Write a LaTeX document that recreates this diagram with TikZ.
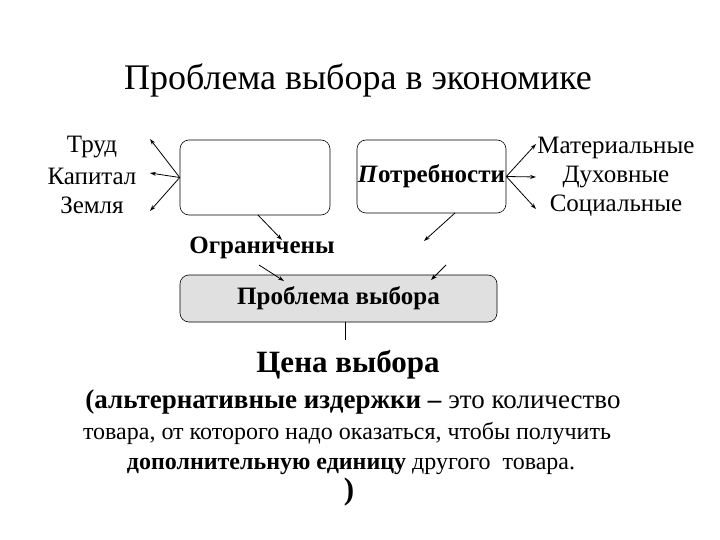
\documentclass[tikz,border=0pt]{standalone}
\usepackage{fontspec}
\setmainfont{Liberation Serif}
\usetikzlibrary{arrows.meta}
\begin{document}
\begin{tikzpicture}[x=1pt,y=-1pt,
 box/.style={draw,rounded corners=9pt,line width=0.6pt},
 arr/.style={-{Stealth[length=6pt,width=4pt]},line width=0.8pt},
 lbl/.style={font=\fontsize{25}{27}\selectfont,inner sep=1pt}]
\useasboundingbox (0,0) rectangle (720,540);
\node[font=\fontsize{36}{38}\selectfont] (title) at (358,80) {Проблема выбора в экономике};
\node[box,minimum width=150pt,minimum height=75pt] (res) at (255,177.5) {};
\node[box,minimum width=149pt,minimum height=73pt,font=\fontsize{25}{27}\selectfont\bfseries,inner sep=0pt] (need) at (431.5,176.5) {\textit{П}отребности};
\node[box,fill=black!12,minimum width=317pt,minimum height=47pt,font=\fontsize{25}{27}\selectfont\bfseries] (prob) at (338.5,298.5) {Проблема выбора};
\node[lbl] (trud) at (92,147) {Труд};
\node[lbl] (kap) at (92,176) {Капитал};
\node[lbl] (zem) at (92,205) {Земля};
\node[lbl] (mat) at (616,148) {Материальные};
\node[lbl] (duh) at (616,177) {Духовные};
\node[lbl] (soc) at (616,206) {Социальные};
\node[lbl,font=\fontsize{25}{27}\selectfont\bfseries] (ogr) at (262,248) {Ограничены};
\coordinate (a1) at (150,139); \coordinate (a2) at (150,173); \coordinate (a3) at (150,211);
\coordinate (b1) at (536,144); \coordinate (b2) at (536,177); \coordinate (b3) at (536,209);
\draw[arr] (res.west) -- (a1); \draw[arr] (res.west) -- (a2); \draw[arr] (res.west) -- (a3);
\draw[arr] (need.east) -- (b1); \draw[arr] (need.east) -- (b2); \draw[arr] (need.east) -- (b3);
\coordinate (c1) at (258,215); \coordinate (c2) at (282,240);
\draw[arr] (c1) -- (c2);
\coordinate (d1) at (455,213); \coordinate (d2) at (424,241);
\draw[arr] (d1) -- (d2);
\coordinate (e1) at (259,265); \coordinate (e2) at (284,281);
\draw[arr] (e1) -- (e2);
\coordinate (f1) at (446,265); \coordinate (f2) at (431,280);
\draw[arr] (f1) -- (f2);
\coordinate (g1) at (345,340);
\draw[line width=0.8pt] (prob.south -| g1) -- (g1);
\node[font=\fontsize{31}{33}\selectfont\bfseries] (price) at (348,365) {Цена выбора};
\node[font=\fontsize{27}{29}\selectfont,anchor=base] (l2) at (353,408) {\textbf{(альтернативные издержки – }это количество};
\node[font=\fontsize{24}{26}\selectfont,anchor=base] (l3) at (347,439) {товара, от которого надо оказаться, чтобы получить};
\node[font=\fontsize{24}{26}\selectfont,anchor=base] (l4) at (351,469) {\textbf{дополнительную единицу} другого\ \ товара.};
\node[font=\fontsize{31}{33}\selectfont\bfseries] (cl) at (349,492) {)};
\end{tikzpicture}
\end{document}
